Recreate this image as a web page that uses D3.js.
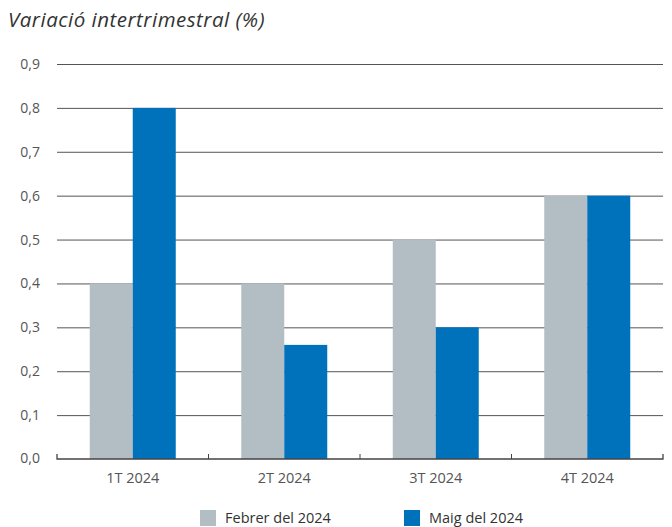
<!DOCTYPE html>
<html><head><meta charset="utf-8">
<script src="https://cdn.jsdelivr.net/npm/d3@7"></script>
<style>body{margin:0;background:#fff}svg{display:block}text{font-family:"Open Sans",sans-serif}</style>
</head><body><svg id="c" width="672" height="527"></svg>
<script>
const categories = ["1T 2024","2T 2024","3T 2024","4T 2024"];
const seriesNames = ["Febrer del 2024","Maig del 2024"];
const febrer = [0.4, 0.4, 0.5, 0.6];
const maig = [0.8, 0.26, 0.3, 0.6];
const yTicks = [0,0.1,0.2,0.3,0.4,0.5,0.6,0.7,0.8,0.9];
const colors = ["#b3bec4","#0071bb"];

const svg = d3.select("#c");
const mL = 57, mR = 663, mT = 64, mB = 459;
const x = d3.scaleBand().domain(categories).range([mL,mR]).paddingInner(0).paddingOuter(0);
const y = d3.scaleLinear().domain([0,0.9]).range([mB,mT]);
const fmt = d => d3.format(".1f")(d).replace(".", ",");

svg.append("text").attr("x",8).attr("y",27).attr("font-size",20.5).attr("font-style","italic")
  .attr("fill","#333").attr("letter-spacing","0.5").text("Variació intertrimestral (%)");

const gy = svg.append("g").attr("transform",`translate(${mL},0)`)
  .call(d3.axisLeft(y).tickValues(yTicks.filter(d=>d>0)).tickSize(-(mR-mL)).tickFormat(fmt).tickPadding(17));
gy.select(".domain").remove();
gy.selectAll(".tick line").attr("stroke","#555").attr("stroke-width",1);
gy.selectAll(".tick text").attr("font-size",14).attr("fill","#555");
svg.append("text").attr("x",40).attr("y",y(0)).attr("dy","0.32em").attr("text-anchor","end")
  .attr("font-size",14).attr("fill","#555").text(fmt(0));

const inner = d3.scaleBand().domain([0,1]).range([0,86]);
const data = categories.map((c,i)=>({c, v:[febrer[i], maig[i]]}));
const g = svg.append("g");
data.forEach(d=>{
  const x0 = x(d.c) + (x.bandwidth()-86)/2;
  g.selectAll(null).data(d.v).join("rect")
    .attr("x",(v,j)=>x0+inner(j)).attr("width",inner.bandwidth())
    .attr("y",v=>y(v)).attr("height",v=>y(0)-y(v)).attr("fill",(v,j)=>colors[j]);
});

const gx = svg.append("g").attr("transform",`translate(0,${mB})`)
  .call(d3.axisBottom(x).tickSize(0).tickPadding(14));
gx.select(".domain").attr("stroke","#444").attr("stroke-width",1.3).attr("d",`M${mL},-5V0H${mR}V-5`);
gx.selectAll(".tick text").attr("font-size",14.5).attr("fill","#555");
const bounds = categories.slice(1).map(c=>x(c));
svg.append("g").selectAll("line").data(bounds).join("line")
  .attr("x1",d=>d).attr("x2",d=>d).attr("y1",mB-5).attr("y2",mB).attr("stroke","#444");

const lx = [200, 404];
const lg = svg.append("g");
seriesNames.forEach((n,i)=>{
  lg.append("rect").attr("x",lx[i]).attr("y",510).attr("width",16).attr("height",16).attr("fill",colors[i]);
  lg.append("text").attr("x",lx[i]+25).attr("y",523).attr("font-size",14.5).attr("fill","#333").text(n);
});
</script></body></html>
